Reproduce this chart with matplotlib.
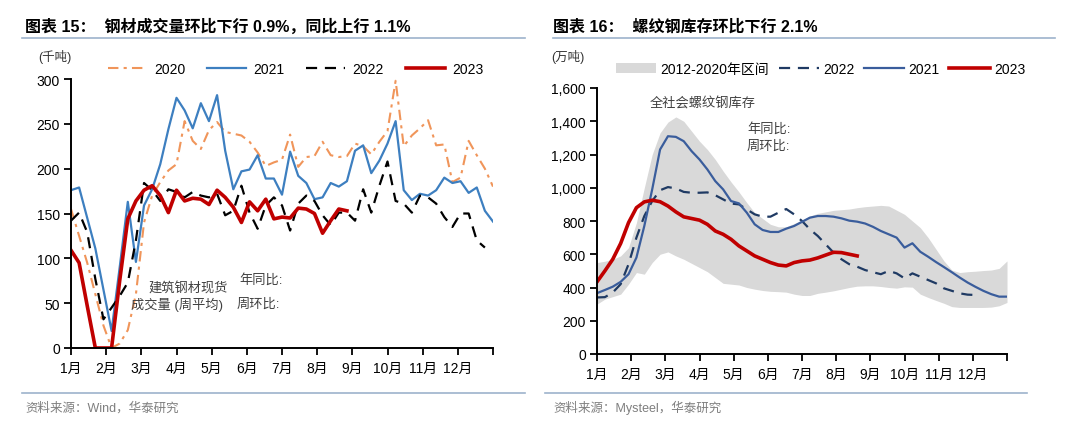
import numpy as np
import matplotlib.pyplot as plt
from matplotlib.lines import Line2D
from matplotlib.patches import Patch

plt.rcParams['font.family'] = ['Liberation Sans', 'Noto Sans CJK SC']
plt.rcParams['axes.unicode_minus'] = False

# =========================
# DATA (weekly, week 0..52)
# =========================
months = ["1月", "2月", "3月", "4月", "5月", "6月", "7月", "8月", "9月", "10月", "11月", "12月"]

# chart 15: building steel spot trading volume (kt)
vol_2020 = [155, 125, 95, 60, 25, 0, 5, 20, 60, 140, 170, 185, 198, 205, 253, 231, 222, 243, 252,
            241, 239, 237, 230, 218, 203, 207, 210, 238, 202, 213, 214, 230, 215, 213, 214, 228,
            225, 216, 230, 242, 298, 225, 237, 245, 254, 226, 227, 185, 190, 231, 215, 200, 180]
vol_2021 = [176, 179, 145, 111, 65, 19, 90, 163, 96, 159, 177, 205, 244, 279, 265, 245, 273, 253, 282,
            220, 177, 197, 199, 215, 189, 189, 171, 219, 192, 184, 166, 168, 184, 180, 186, 220,
            226, 195, 209, 228, 253, 176, 165, 172, 170, 176, 190, 184, 186, 173, 179, 153, 141]
vol_2022 = [142, 151, 129, 77, 32, 45, 58, 73, 120, 184, 176, 164, 177, 174, 168, 174, 170, 168, 172,
            148, 153, 181, 151, 133, 159, 168, 159, 131, 161, 170, 164, 148, 137, 151, 151, 142,
            177, 151, 181, 208, 164, 161, 151, 170, 168, 161, 146, 135, 150, 150, 120, 112]
vol_2023 = [109, 95, 47, 0, 0, 0, 75, 144, 164, 176, 181, 170, 151, 176, 164, 167, 166, 160, 176,
            168, 157, 140, 163, 153, 166, 144, 146, 145, 156, 155, 150, 128, 142, 155, 153]

# chart 16: rebar social inventory (10kt)
band_hi = [550, 558, 570, 590, 640, 790, 1000, 1200, 1330, 1395, 1426, 1400, 1340, 1280, 1230, 1170,
           1100, 1035, 975, 910, 850, 815, 780, 765, 765, 785, 805, 830, 846, 855, 864, 868, 872,
           880, 886, 890, 894, 890, 865, 840, 800, 760, 700, 630, 560, 505, 490, 495, 498, 502,
           505, 515, 560]
band_lo = [300, 330, 345, 360, 420, 490, 480, 550, 600, 614, 590, 570, 545, 520, 495, 460, 425, 420,
           415, 400, 390, 382, 377, 375, 372, 360, 352, 352, 365, 372, 380, 390, 400, 408, 410, 410,
           406, 400, 396, 404, 402, 360, 340, 322, 305, 285, 280, 280, 280, 280, 282, 290, 310]
inv_2021 = [366, 385, 405, 434, 480, 580, 770, 990, 1230, 1310, 1306, 1280, 1220, 1170, 1110, 1040,
            990, 920, 906, 850, 780, 746, 734, 734, 754, 770, 795, 820, 830, 830, 826, 816, 802, 796,
            785, 765, 740, 720, 700, 640, 666, 615, 585, 553, 523, 492, 460, 430, 404, 380, 360,
            345, 345]
inv_2022 = [340, 342, 370, 420, 540, 700, 830, 920, 985, 1004, 996, 975, 970, 970, 972, 955, 930, 905,
            900, 870, 840, 826, 826, 850, 872, 840, 800, 750, 710, 660, 610, 570, 540, 525, 505, 492,
            480, 500, 485, 455, 485, 465, 445, 425, 395, 380, 365, 357, 355]
inv_2023 = [434, 500, 570, 665, 790, 880, 915, 925, 916, 890, 855, 825, 815, 805, 780, 740, 720, 690,
            650, 620, 590, 570, 550, 535, 530, 550, 560, 565, 578, 595, 612, 610, 600, 590]

# =========================
# STYLE
# =========================
C_2020 = "#F0955A"
C_2021_L = "#3D7FC0"
C_2023 = "#C00000"
C_2021_R = "#3A5D9C"
C_2022_R = "#1F3A63"
C_BAND = "#D9D9D9"
C_RULE = "#9DB3CC"
GREY_TXT = "#7F7F7F"
ANN = "#404040"

W, H = 1080, 435
month_ticks = np.arange(13) * 52 / 12


def fx(px):
    return px / W


def fy(py):
    return 1 - py / H


def setup_axis(ax, ymax, ystep, fmt):
    ax.set_xlim(0, 52)
    ax.set_ylim(0, ymax)
    ax.set_xticks(month_ticks)
    ax.set_xticklabels(months + [""])
    ax.set_yticks(np.arange(0, ymax + 1, ystep))
    ax.set_yticklabels([fmt(v) for v in np.arange(0, ymax + 1, ystep)])
    for s in ["top", "right"]:
        ax.spines[s].set_visible(False)
    for s in ["left", "bottom"]:
        ax.spines[s].set_linewidth(1.4)
    ax.tick_params(axis="both", direction="out", length=5, width=1.3, labelsize=10,
                   colors="black", pad=3)
    ax.tick_params(axis="x", pad=4)


fig = plt.figure(figsize=(W / 100, H / 100), dpi=100)

# =========================
# LEFT: chart 15
# =========================
ax1 = fig.add_axes([fx(71), fy(349), fx(422), 269 / H])
setup_axis(ax1, 300, 50, lambda v: f"{int(v)}")

ax1.plot(np.arange(len(vol_2020)), vol_2020, color=C_2020, lw=1.5, dashes=(5, 2.5, 1.5, 2.5), label="2020")
ax1.plot(np.arange(len(vol_2021)), vol_2021, color=C_2021_L, lw=1.6, label="2021")
ax1.plot(np.arange(len(vol_2022)), vol_2022, color="black", lw=1.6, dashes=(5, 3.5), label="2022")
ax1.plot(np.arange(len(vol_2023)), vol_2023, color=C_2023, lw=2.6, label="2023")

ax1.legend(loc="center", bbox_to_anchor=(0.532, 1.037), ncol=4, frameon=False, fontsize=10,
           handlelength=2.8, columnspacing=1.6, handletextpad=0.5)

fig.text(fx(148), fy(289), "建筑钢材现货", fontsize=9.5, color=ANN, ha="left", va="center")
fig.text(fx(131), fy(305), "成交量 (周平均)", fontsize=9.5, color=ANN, ha="left", va="center")
fig.text(fx(239), fy(280), "年同比:", fontsize=9.5, color=ANN, ha="left", va="center")
fig.text(fx(237), fy(305), "周环比:", fontsize=9.5, color=ANN, ha="left", va="center")

fig.text(fx(38), fy(57), "(千吨)", fontsize=9, color="#333333", va="center")

# =========================
# RIGHT: chart 16
# =========================
ax2 = fig.add_axes([fx(597), fy(355), fx(410), 266 / H])
setup_axis(ax2, 1600, 200, lambda v: f"{int(v):,}")

wk = np.arange(len(band_hi))
ax2.fill_between(wk, band_lo, band_hi, color=C_BAND, lw=0, label="2012-2020年区间")
ax2.plot(np.arange(len(inv_2022)), inv_2022, color=C_2022_R, lw=1.6, dashes=(5, 3.5), label="2022")
ax2.plot(np.arange(len(inv_2021)), inv_2021, color=C_2021_R, lw=1.6, label="2021")
ax2.plot(np.arange(len(inv_2023)), inv_2023, color=C_2023, lw=2.6, label="2023")

handles = [Patch(facecolor=C_BAND, edgecolor="none"),
           Line2D([], [], color=C_2022_R, lw=1.6, dashes=(5, 3.5)),
           Line2D([], [], color=C_2021_R, lw=1.6),
           Line2D([], [], color=C_2023, lw=2.6)]
ax2.legend(handles, ["2012-2020年区间", "2022", "2021", "2023"], loc="center",
           bbox_to_anchor=(0.545, 1.071), ncol=4, frameon=False, fontsize=10,
           handlelength=2.9, columnspacing=0.7, handletextpad=0.3)

fig.text(fx(650), fy(104), "全社会螺纹钢库存", fontsize=9.5, color=ANN, ha="left", va="center")
fig.text(fx(747), fy(129), "年同比:", fontsize=9.5, color=ANN, ha="left", va="center")
fig.text(fx(747), fy(147), "周环比:", fontsize=9.5, color=ANN, ha="left", va="center")

fig.text(fx(551), fy(57), "(万吨)", fontsize=9, color="#333333", va="center")

# =========================
# TITLES / RULES / SOURCES
# =========================
fig.text(fx(25), fy(27), "图表 15：  钢材成交量环比下行 0.9%，同比上行 1.1%",
         fontsize=11.5, fontweight="bold", va="center")
fig.text(fx(553), fy(27), "图表 16：  螺纹钢库存环比下行 2.1%",
         fontsize=11.5, fontweight="bold", va="center")

for x0, x1 in [(22, 525), (553, 1055)]:
    fig.add_artist(Line2D([fx(x0), fx(x1)], [fy(39)] * 2, color=C_RULE, lw=1.2))
for x0, x1 in [(22, 525), (545, 1027)]:
    fig.add_artist(Line2D([fx(x0), fx(x1)], [fy(394)] * 2, color=C_RULE, lw=1.2))

fig.text(fx(25), fy(408), "资料来源：Wind，华泰研究", fontsize=9, color=GREY_TXT, va="center")
fig.text(fx(553), fy(408), "资料来源：Mysteel，华泰研究", fontsize=9, color=GREY_TXT, va="center")

fig.savefig("out.png", dpi=100)
